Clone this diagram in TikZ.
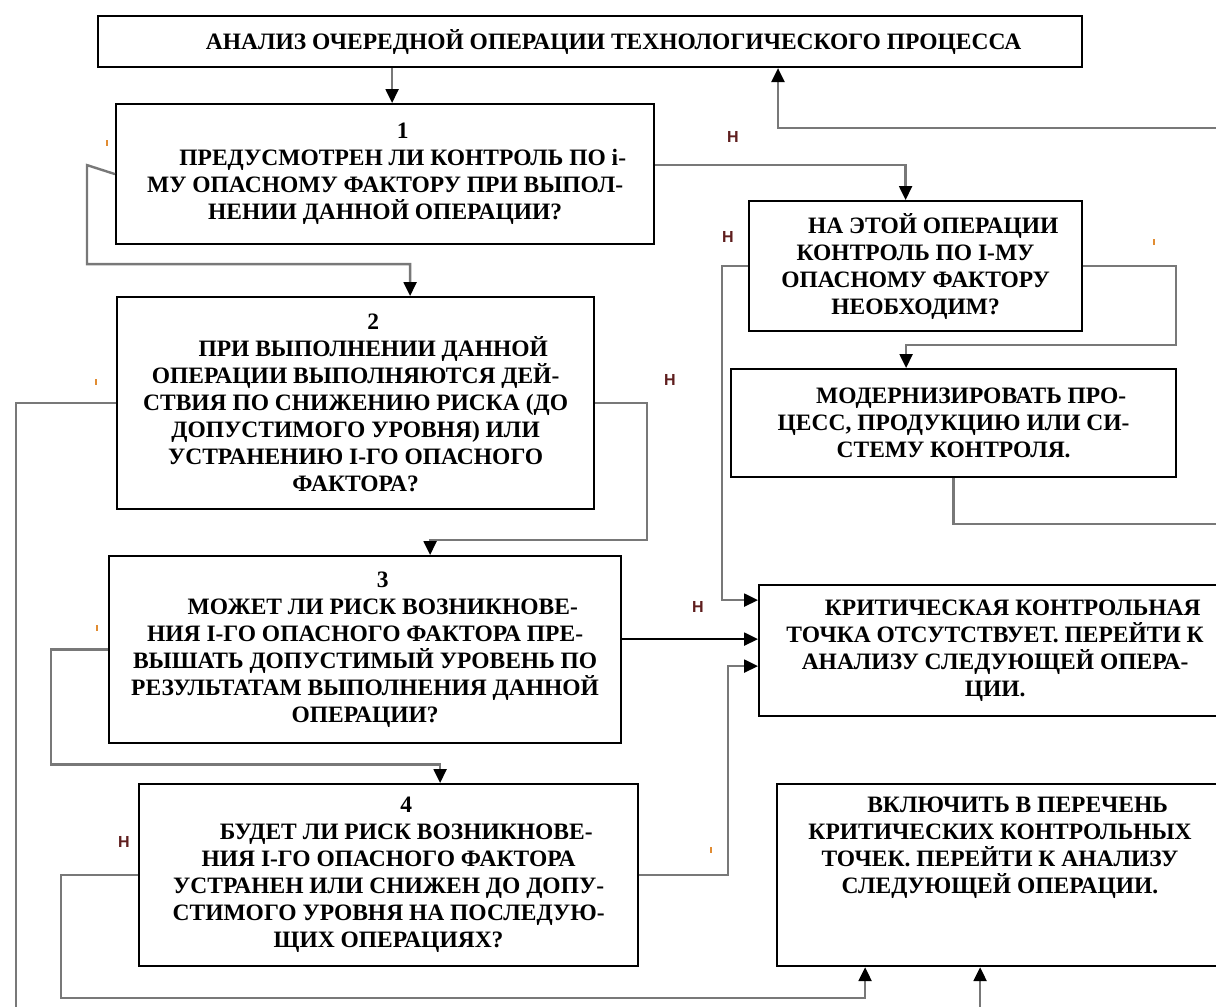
\documentclass[tikz,border=0pt]{standalone}
\usepackage{fontspec}
\setmainfont{Liberation Serif}
\newfontfamily\hsans{Liberation Sans}
\usetikzlibrary{arrows.meta}
\definecolor{lineg}{RGB}{120,120,120}
\definecolor{hred}{RGB}{95,30,30}
\definecolor{tickc}{RGB}{225,140,50}
\tikzset{
  box/.style={draw=black, line width=2.2pt, inner sep=0pt, align=center, anchor=north west,
    font=\bfseries\fontsize{23.5}{27}\selectfont},
  btext/.style={inner sep=0pt, align=center, font=\bfseries\fontsize{23.5}{27}\selectfont},
  conn/.style={draw=lineg, line width=2.4pt},
  connb/.style={draw=black, line width=2.4pt},
  arr/.style={-{Triangle[length=14pt,width=13pt,color=black]}},
  hlab/.style={text=hred, inner sep=0pt, font=\hsans\bfseries\fontsize{16}{16}\selectfont},
  tickm/.style={draw=tickc, line width=1.6pt},
}
\newcommand{\ind}{\hspace*{1.5em}}
\begin{document}
\begin{tikzpicture}[x=1pt,y=-1pt]
\useasboundingbox (0,0) rectangle (1216,1007);
\fill[white] (0,0) rectangle (1216,1007);

% boxes
\node[box, anchor=west, minimum width=984pt, minimum height=51pt] (t) at (97,41.5)
  {\hspace*{47pt}АНАЛИЗ ОЧЕРЕДНОЙ ОПЕРАЦИИ ТЕХНОЛОГИЧЕСКОГО ПРОЦЕССА};
\node[box, minimum width=538pt, minimum height=140pt] (b1) at (115,103)
  {\ind 1\\\ind ПРЕДУСМОТРЕН ЛИ КОНТРОЛЬ ПО i-\\МУ ОПАСНОМУ ФАКТОРУ ПРИ ВЫПОЛ-\\НЕНИИ ДАННОЙ ОПЕРАЦИИ?};
\node[box, minimum width=477pt, minimum height=212pt] (b2) at (116,296)
  {\ind 2\\\ind ПРИ ВЫПОЛНЕНИИ ДАННОЙ\\ОПЕРАЦИИ ВЫПОЛНЯЮТСЯ ДЕЙ-\\СТВИЯ ПО СНИЖЕНИЮ РИСКА (ДО\\ДОПУСТИМОГО УРОВНЯ) ИЛИ\\УСТРАНЕНИЮ I-ГО ОПАСНОГО\\ФАКТОРА?};
\node[box, minimum width=512pt, minimum height=187pt] (b3) at (108,555)
  {\ind 3\\\ind МОЖЕТ ЛИ РИСК ВОЗНИКНОВЕ-\\НИЯ I-ГО ОПАСНОГО ФАКТОРА ПРЕ-\\ВЫШАТЬ ДОПУСТИМЫЙ УРОВЕНЬ ПО\\РЕЗУЛЬТАТАМ ВЫПОЛНЕНИЯ ДАННОЙ\\ОПЕРАЦИИ?};
\node[box, minimum width=499pt, minimum height=182pt] (b4) at (138,783)
  {\ind 4\\\ind БУДЕТ ЛИ РИСК ВОЗНИКНОВЕ-\\НИЯ I-ГО ОПАСНОГО ФАКТОРА\\УСТРАНЕН ИЛИ СНИЖЕН ДО ДОПУ-\\СТИМОГО УРОВНЯ НА ПОСЛЕДУЮ-\\ЩИХ ОПЕРАЦИЯХ?};
\node[box, minimum width=333pt, minimum height=130pt] (bn) at (748,200)
  {\ind НА ЭТОЙ ОПЕРАЦИИ\\КОНТРОЛЬ ПО I-МУ\\ОПАСНОМУ ФАКТОРУ\\НЕОБХОДИМ?};
\node[box, minimum width=445pt, minimum height=108pt] (bm) at (730,368)
  {\ind МОДЕРНИЗИРОВАТЬ ПРО-\\ЦЕСС, ПРОДУКЦИЮ ИЛИ СИ-\\СТЕМУ КОНТРОЛЯ.};
\node[box, minimum width=472pt, minimum height=131pt] (kt) at (758,584)
  {\ind КРИТИЧЕСКАЯ КОНТРОЛЬНАЯ\\ТОЧКА ОТСУТСТВУЕТ. ПЕРЕЙТИ К\\АНАЛИЗУ СЛЕДУЮЩЕЙ ОПЕРА-\\ЦИИ.};
\node[box, minimum width=454pt, minimum height=182pt] (bv) at (776,783) {};
\node[btext] (bvt) at (1000,848)
  {\ind ВКЛЮЧИТЬ В ПЕРЕЧЕНЬ\\КРИТИЧЕСКИХ КОНТРОЛЬНЫХ\\ТОЧЕК. ПЕРЕЙТИ К АНАЛИЗУ\\СЛЕДУЮЩЕЙ ОПЕРАЦИИ.};

% helper coordinates on the boxes
\coordinate (c1) at ([xshift=7pt]b1.north);
\coordinate (p1) at ([yshift=9pt]b1.east);
\coordinate (q1) at ([xshift=-10pt]bn.north);
\coordinate (q2) at ([xshift=54.5pt]b2.north);
\coordinate (q3) at ([xshift=65pt]b3.north);
\coordinate (q4) at ([xshift=-24pt]bv.south);
\coordinate (q5) at ([xshift=51.5pt]b4.north);
\coordinate (p5) at ([yshift=10.5pt]b3.east);
\coordinate (q6) at ([xshift=-139pt]bv.south);
\coordinate (q7) at ([yshift=-15.5pt]kt.west);
\coordinate (q8) at ([yshift=50.5pt]kt.west);
\coordinate (q9) at ([xshift=-47.5pt]bm.north);
\coordinate (q10) at (778,0);
\coordinate (edge) at (1240,128);

% connectors
\draw[conn,arr] (c1 |- t.south) -- (c1);
\draw[conn,arr] (p1) -| (q1);
\draw[conn,arr] (b1.west) -- ++(-28,-9) -- ++(0,99) -| (q2);
\draw[conn,arr] (b2.east) -- ++(52,0) -- ++(0,137) -| (q3);
\draw[conn,arr] (b2.west) -- ++(-100,0) -- ++(0,615) -| (q4);
\draw[conn,arr] (b3.west) -- ++(-57,0) -- ++(0,115) -| (q5);
\draw[connb,arr] (p5) -- (p5 -| kt.west);
\draw[conn,arr] (b4.west) -- ++(-77,0) -- ++(0,123) -| (q6);
\draw[conn,arr] (b4.east) -- ++(89,0) |- (q7);
\draw[conn,arr] (bn.west) -- ++(-26,0) |- (q8);
\draw[conn,arr] (bn.east) -- ++(93,0) -- ++(0,79) -| (q9);
\draw[conn,arr] (bm.south) -- ++(0,46) -| (edge) -| (q10 |- t.south);

% labels
\node[hlab] (h1) at (733,137) {Н};
\node[hlab] (h2) at (728,237) {Н};
\node[hlab] (h3) at (670,380) {Н};
\node[hlab] (h4) at (698,607) {Н};
\node[hlab] (h5) at (124,842) {Н};

% small orange marks
\draw[tickm] (107,140) -- (107,146);
\draw[tickm] (1154,239) -- (1154,245);
\draw[tickm] (96,379) -- (96,385);
\draw[tickm] (97,625) -- (97,631);
\draw[tickm] (711,847) -- (711,853);
\end{tikzpicture}
\end{document}
